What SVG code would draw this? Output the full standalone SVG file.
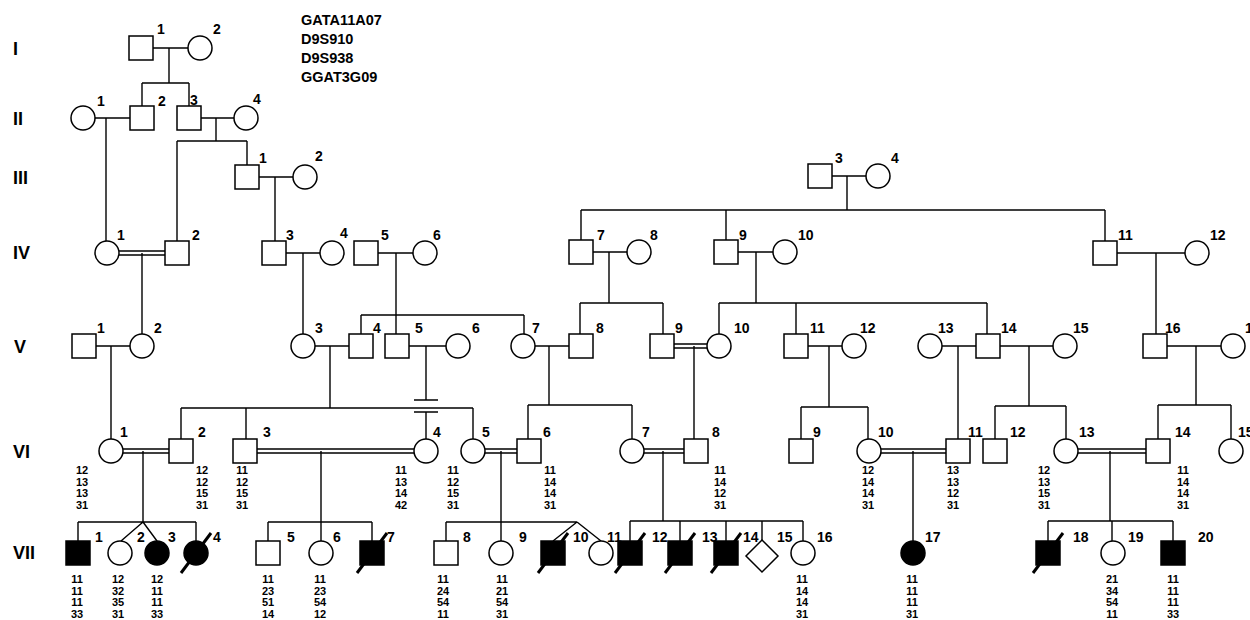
<svg xmlns="http://www.w3.org/2000/svg" width="1250" height="620" viewBox="0 0 1250 620">
<style>
.s{fill:#fff;stroke:#000;stroke-width:1.5}
.f{fill:#000;stroke:#000;stroke-width:1.5}
.c path{fill:none;stroke:#000;stroke-width:1.4}
.d{stroke:#000;stroke-width:3}
text{font-family:"Liberation Sans",Arial,sans-serif;font-weight:bold;fill:#000}
.n{font-size:14px}
.a{font-size:11px;text-anchor:middle}
.g{font-size:18px}
.t{font-size:14.5px}
</style>
<rect width="1250" height="620" fill="#fff"/>
<g id="generations">
<text class="g" x="13" y="55">I</text>
<text class="g" x="13" y="125">II</text>
<text class="g" x="13" y="184">III</text>
<text class="g" x="13" y="259">IV</text>
<text class="g" x="14" y="353">V</text>
<text class="g" x="13" y="458">VI</text>
<text class="g" x="13" y="559">VII</text>
</g>
<g id="markers">
<text class="t" x="301" y="25">GATA11A07</text>
<text class="t" x="301" y="44">D9S910</text>
<text class="t" x="301" y="63">D9S938</text>
<text class="t" x="301" y="82">GGAT3G09</text>
</g>
<g id="connectors" class="c">
<path d="M153 48H188M169 48V83M142 83H189M142 83V106M189 83V106"/>
<path d="M95 118H130M106 118V241"/>
<path d="M201 118H234M216 118V141M177 141H247M177 141V241M247 141V165"/>
<path d="M259 177H293M275 177V241"/>
<path d="M832 176H866M847 176V210M581 210H1105M581 210V240M726 210V240M1105 210V241"/>
<path d="M119 251H165M119 255H165M142 253V334"/>
<path d="M286 253H320M303 253V334"/>
<path d="M378 253H413M396 253V315M361 315H524M361 315V334M396 315V334M524 315V334"/>
<path d="M593 252H627M609 252V303M580 303H663M580 303V334M663 303V334"/>
<path d="M738 252H773M756 252V303M719 303H987M719 303V334M796 303V334M987 303V334"/>
<path d="M1117 253H1185M1156 253V334"/>
<path d="M96 346H130M111 346V439"/>
<path d="M315 346H349M330 346V408M181 408H473M181 408V439M246 408V439M473 408V439"/>
<path d="M409 346H446M426 346V400M414 400H438M414 412H438M426 412V439"/>
<path d="M535 346H569M549 346V405M528 405H632M528 405V439M632 405V439"/>
<path d="M674 344H707M674 348H707M694 346V439"/>
<path d="M808 346H842M829 346V407M801 407H868M801 407V439M868 407V439"/>
<path d="M942 346H976M958 346V439"/>
<path d="M1000 346H1053M1029 346V406M995 406H1066M995 406V439M1066 406V439"/>
<path d="M1167 346H1221M1196 346V405M1158 405H1231M1158 405V439M1231 405V439"/>
<path d="M123 449H169M123 453H169M143 451V522M78 522H196M78 522V541M196 522V541M143 522L121 541M143 522L157 541"/>
<path d="M257 449H414M257 453H414M321 451V541M268 522H372M268 522V541M372 522V541"/>
<path d="M485 449H517M485 453H517M501 451V541M446 522H577M446 522V541M577 522L553 541M577 522L601 541"/>
<path d="M644 449H684M644 453H684M663 451V521M630 521H803M630 521V541M680 521V541M726 521V541M762 521V540M803 521V541"/>
<path d="M881 449H946M881 453H946M913 451V541"/>
<path d="M1078 449H1146M1078 453H1146M1110 451V521M1048 521H1173M1048 521V541M1112 521V541M1173 521V541"/>
</g>
<g id="I-1"><rect class="s" x="129" y="36" width="24" height="24"/><text class="n" x="157" y="34">1</text></g>
<g id="I-2"><circle class="s" cx="200" cy="48" r="12"/><text class="n" x="213" y="34">2</text></g>
<g id="II-1"><circle class="s" cx="83" cy="118" r="12"/><text class="n" x="97" y="106">1</text></g>
<g id="II-2"><rect class="s" x="130" y="106" width="24" height="24"/><text class="n" x="158" y="106">2</text></g>
<g id="II-3"><rect class="s" x="177" y="106" width="24" height="24"/><text class="n" x="190" y="105">3</text></g>
<g id="II-4"><circle class="s" cx="246" cy="118" r="12"/><text class="n" x="253" y="104">4</text></g>
<g id="III-1"><rect class="s" x="235" y="165" width="24" height="24"/><text class="n" x="259" y="163">1</text></g>
<g id="III-2"><circle class="s" cx="305" cy="177" r="12"/><text class="n" x="315" y="161">2</text></g>
<g id="III-3"><rect class="s" x="808" y="164" width="24" height="24"/><text class="n" x="835" y="163">3</text></g>
<g id="III-4"><circle class="s" cx="878" cy="176" r="12"/><text class="n" x="891" y="163">4</text></g>
<g id="IV-1"><circle class="s" cx="107" cy="253" r="12"/><text class="n" x="117" y="240">1</text></g>
<g id="IV-2"><rect class="s" x="165" y="241" width="24" height="24"/><text class="n" x="192" y="240">2</text></g>
<g id="IV-3"><rect class="s" x="262" y="241" width="24" height="24"/><text class="n" x="286" y="240">3</text></g>
<g id="IV-4"><circle class="s" cx="332" cy="253" r="12"/><text class="n" x="340" y="238">4</text></g>
<g id="IV-5"><rect class="s" x="354" y="241" width="24" height="24"/><text class="n" x="381" y="240">5</text></g>
<g id="IV-6"><circle class="s" cx="425" cy="253" r="12"/><text class="n" x="433" y="240">6</text></g>
<g id="IV-7"><rect class="s" x="569" y="240" width="24" height="24"/><text class="n" x="597" y="240">7</text></g>
<g id="IV-8"><circle class="s" cx="639" cy="252" r="12"/><text class="n" x="650" y="240">8</text></g>
<g id="IV-9"><rect class="s" x="714" y="240" width="24" height="24"/><text class="n" x="739" y="240">9</text></g>
<g id="IV-10"><circle class="s" cx="785" cy="252" r="12"/><text class="n" x="798" y="240">10</text></g>
<g id="IV-11"><rect class="s" x="1093" y="241" width="24" height="24"/><text class="n" x="1118" y="240">11</text></g>
<g id="IV-12"><circle class="s" cx="1197" cy="253" r="12"/><text class="n" x="1210" y="240">12</text></g>
<g id="V-1"><rect class="s" x="72" y="334" width="24" height="24"/><text class="n" x="97" y="333">1</text></g>
<g id="V-2"><circle class="s" cx="142" cy="346" r="12"/><text class="n" x="154" y="333">2</text></g>
<g id="V-3"><circle class="s" cx="303" cy="346" r="12"/><text class="n" x="315" y="333">3</text></g>
<g id="V-4"><rect class="s" x="349" y="334" width="24" height="24"/><text class="n" x="373" y="333">4</text></g>
<g id="V-5"><rect class="s" x="385" y="334" width="24" height="24"/><text class="n" x="415" y="333">5</text></g>
<g id="V-6"><circle class="s" cx="458" cy="346" r="12"/><text class="n" x="472" y="333">6</text></g>
<g id="V-7"><circle class="s" cx="523" cy="346" r="12"/><text class="n" x="532" y="333">7</text></g>
<g id="V-8"><rect class="s" x="569" y="334" width="24" height="24"/><text class="n" x="596" y="333">8</text></g>
<g id="V-9"><rect class="s" x="650" y="334" width="24" height="24"/><text class="n" x="675" y="333">9</text></g>
<g id="V-10"><circle class="s" cx="719" cy="346" r="12"/><text class="n" x="734" y="333">10</text></g>
<g id="V-11"><rect class="s" x="784" y="334" width="24" height="24"/><text class="n" x="810" y="333">11</text></g>
<g id="V-12"><circle class="s" cx="854" cy="346" r="12"/><text class="n" x="860" y="333">12</text></g>
<g id="V-13"><circle class="s" cx="930" cy="346" r="12"/><text class="n" x="938" y="333">13</text></g>
<g id="V-14"><rect class="s" x="976" y="334" width="24" height="24"/><text class="n" x="1001" y="333">14</text></g>
<g id="V-15"><circle class="s" cx="1065" cy="346" r="12"/><text class="n" x="1073" y="333">15</text></g>
<g id="V-16"><rect class="s" x="1143" y="334" width="24" height="24"/><text class="n" x="1165" y="333">16</text></g>
<g id="V-17"><circle class="s" cx="1233" cy="346" r="12"/><text class="n" x="1245" y="333">17</text></g>
<g id="VI-1"><circle class="s" cx="111" cy="451" r="12"/><text class="n" x="120" y="437">1</text><text class="a" x="82" y="474">12<tspan x="82" dy="11.7">13</tspan><tspan x="82" dy="11.7">13</tspan><tspan x="82" dy="11.7">31</tspan></text></g>
<g id="VI-2"><rect class="s" x="169" y="439" width="24" height="24"/><text class="n" x="198" y="437">2</text><text class="a" x="202" y="474">12<tspan x="202" dy="11.7">12</tspan><tspan x="202" dy="11.7">15</tspan><tspan x="202" dy="11.7">31</tspan></text></g>
<g id="VI-3"><rect class="s" x="233" y="439" width="24" height="24"/><text class="n" x="263" y="437">3</text><text class="a" x="242" y="474">11<tspan x="242" dy="11.7">12</tspan><tspan x="242" dy="11.7">15</tspan><tspan x="242" dy="11.7">31</tspan></text></g>
<g id="VI-4"><circle class="s" cx="426" cy="451" r="12"/><text class="n" x="433" y="437">4</text><text class="a" x="401" y="474">11<tspan x="401" dy="11.7">13</tspan><tspan x="401" dy="11.7">14</tspan><tspan x="401" dy="11.7">42</tspan></text></g>
<g id="VI-5"><circle class="s" cx="473" cy="451" r="12"/><text class="n" x="482" y="437">5</text><text class="a" x="453" y="474">11<tspan x="453" dy="11.7">12</tspan><tspan x="453" dy="11.7">15</tspan><tspan x="453" dy="11.7">31</tspan></text></g>
<g id="VI-6"><rect class="s" x="517" y="439" width="24" height="24"/><text class="n" x="543" y="437">6</text><text class="a" x="550" y="474">11<tspan x="550" dy="11.7">14</tspan><tspan x="550" dy="11.7">14</tspan><tspan x="550" dy="11.7">31</tspan></text></g>
<g id="VI-7"><circle class="s" cx="632" cy="451" r="12"/><text class="n" x="642" y="437">7</text></g>
<g id="VI-8"><rect class="s" x="684" y="439" width="24" height="24"/><text class="n" x="712" y="437">8</text><text class="a" x="720" y="474">11<tspan x="720" dy="11.7">14</tspan><tspan x="720" dy="11.7">12</tspan><tspan x="720" dy="11.7">31</tspan></text></g>
<g id="VI-9"><rect class="s" x="789" y="439" width="24" height="24"/><text class="n" x="813" y="437">9</text></g>
<g id="VI-10"><circle class="s" cx="869" cy="451" r="12"/><text class="n" x="878" y="437">10</text><text class="a" x="868" y="474">12<tspan x="868" dy="11.7">14</tspan><tspan x="868" dy="11.7">14</tspan><tspan x="868" dy="11.7">31</tspan></text></g>
<g id="VI-11"><rect class="s" x="946" y="439" width="24" height="24"/><text class="n" x="968" y="437">11</text><text class="a" x="953" y="474">13<tspan x="953" dy="11.7">13</tspan><tspan x="953" dy="11.7">12</tspan><tspan x="953" dy="11.7">31</tspan></text></g>
<g id="VI-12"><rect class="s" x="983" y="439" width="24" height="24"/><text class="n" x="1010" y="437">12</text></g>
<g id="VI-13"><circle class="s" cx="1066" cy="451" r="12"/><text class="n" x="1079" y="437">13</text><text class="a" x="1044" y="474">12<tspan x="1044" dy="11.7">13</tspan><tspan x="1044" dy="11.7">15</tspan><tspan x="1044" dy="11.7">31</tspan></text></g>
<g id="VI-14"><rect class="s" x="1146" y="439" width="24" height="24"/><text class="n" x="1175" y="437">14</text><text class="a" x="1183" y="474">11<tspan x="1183" dy="11.7">14</tspan><tspan x="1183" dy="11.7">14</tspan><tspan x="1183" dy="11.7">31</tspan></text></g>
<g id="VI-15"><circle class="s" cx="1231" cy="451" r="12"/><text class="n" x="1238" y="437">15</text></g>
<g id="VII-1"><rect class="f" x="66" y="541" width="24" height="24"/><text class="n" x="95" y="542">1</text><text class="a" x="77" y="583">11<tspan x="77" dy="11.7">11</tspan><tspan x="77" dy="11.7">11</tspan><tspan x="77" dy="11.7">33</tspan></text></g>
<g id="VII-2"><circle class="s" cx="120" cy="553" r="12"/><text class="n" x="137" y="542">2</text><text class="a" x="118" y="583">12<tspan x="118" dy="11.7">32</tspan><tspan x="118" dy="11.7">35</tspan><tspan x="118" dy="11.7">31</tspan></text></g>
<g id="VII-3"><circle class="f" cx="157" cy="553" r="12"/><text class="n" x="168" y="542">3</text><text class="a" x="157" y="583">12<tspan x="157" dy="11.7">11</tspan><tspan x="157" dy="11.7">11</tspan><tspan x="157" dy="11.7">33</tspan></text></g>
<g id="VII-4"><circle class="f" cx="196" cy="553" r="12"/><line class="d" x1="181" y1="573" x2="211" y2="533"/><text class="n" x="213" y="542">4</text></g>
<g id="VII-5"><rect class="s" x="256" y="541" width="24" height="24"/><text class="n" x="287" y="542">5</text><text class="a" x="268" y="583">11<tspan x="268" dy="11.7">23</tspan><tspan x="268" dy="11.7">51</tspan><tspan x="268" dy="11.7">14</tspan></text></g>
<g id="VII-6"><circle class="s" cx="321" cy="553" r="12"/><text class="n" x="333" y="542">6</text><text class="a" x="320" y="583">11<tspan x="320" dy="11.7">23</tspan><tspan x="320" dy="11.7">54</tspan><tspan x="320" dy="11.7">12</tspan></text></g>
<g id="VII-7"><rect class="f" x="360" y="541" width="24" height="24"/><line class="d" x1="357" y1="573" x2="387" y2="533"/><text class="n" x="387" y="542">7</text></g>
<g id="VII-8"><rect class="s" x="434" y="541" width="24" height="24"/><text class="n" x="463" y="542">8</text><text class="a" x="443" y="583">11<tspan x="443" dy="11.7">24</tspan><tspan x="443" dy="11.7">54</tspan><tspan x="443" dy="11.7">11</tspan></text></g>
<g id="VII-9"><circle class="s" cx="501" cy="553" r="12"/><text class="n" x="519" y="542">9</text><text class="a" x="502" y="583">11<tspan x="502" dy="11.7">21</tspan><tspan x="502" dy="11.7">54</tspan><tspan x="502" dy="11.7">31</tspan></text></g>
<g id="VII-10"><rect class="f" x="541" y="541" width="24" height="24"/><line class="d" x1="538" y1="573" x2="568" y2="533"/><text class="n" x="573" y="542">10</text></g>
<g id="VII-11"><circle class="s" cx="601" cy="553" r="12"/><text class="n" x="607" y="542">11</text></g>
<g id="VII-12"><rect class="f" x="618" y="541" width="24" height="24"/><line class="d" x1="615" y1="573" x2="645" y2="533"/><text class="n" x="652" y="542">12</text></g>
<g id="VII-13"><rect class="f" x="668" y="541" width="24" height="24"/><line class="d" x1="665" y1="573" x2="695" y2="533"/><text class="n" x="702" y="542">13</text></g>
<g id="VII-14"><rect class="f" x="714" y="541" width="24" height="24"/><line class="d" x1="711" y1="573" x2="741" y2="533"/><text class="n" x="743" y="542">14</text></g>
<g id="VII-15"><polygon class="s" points="762,540 778,556 762,572 746,556"/><text class="n" x="777" y="542">15</text></g>
<g id="VII-16"><circle class="s" cx="803" cy="553" r="12"/><text class="n" x="817" y="542">16</text><text class="a" x="802" y="583">11<tspan x="802" dy="11.7">14</tspan><tspan x="802" dy="11.7">14</tspan><tspan x="802" dy="11.7">31</tspan></text></g>
<g id="VII-17"><circle class="f" cx="913" cy="553" r="12"/><text class="n" x="925" y="542">17</text><text class="a" x="912" y="583">11<tspan x="912" dy="11.7">11</tspan><tspan x="912" dy="11.7">11</tspan><tspan x="912" dy="11.7">31</tspan></text></g>
<g id="VII-18"><rect class="f" x="1036" y="541" width="24" height="24"/><line class="d" x1="1033" y1="573" x2="1063" y2="533"/><text class="n" x="1073" y="542">18</text></g>
<g id="VII-19"><circle class="s" cx="1113" cy="553" r="12"/><text class="n" x="1128" y="542">19</text><text class="a" x="1112" y="583">21<tspan x="1112" dy="11.7">34</tspan><tspan x="1112" dy="11.7">54</tspan><tspan x="1112" dy="11.7">11</tspan></text></g>
<g id="VII-20"><rect class="f" x="1161" y="541" width="24" height="24"/><text class="n" x="1198" y="542">20</text><text class="a" x="1173" y="583">11<tspan x="1173" dy="11.7">11</tspan><tspan x="1173" dy="11.7">11</tspan><tspan x="1173" dy="11.7">33</tspan></text></g>
</svg>
